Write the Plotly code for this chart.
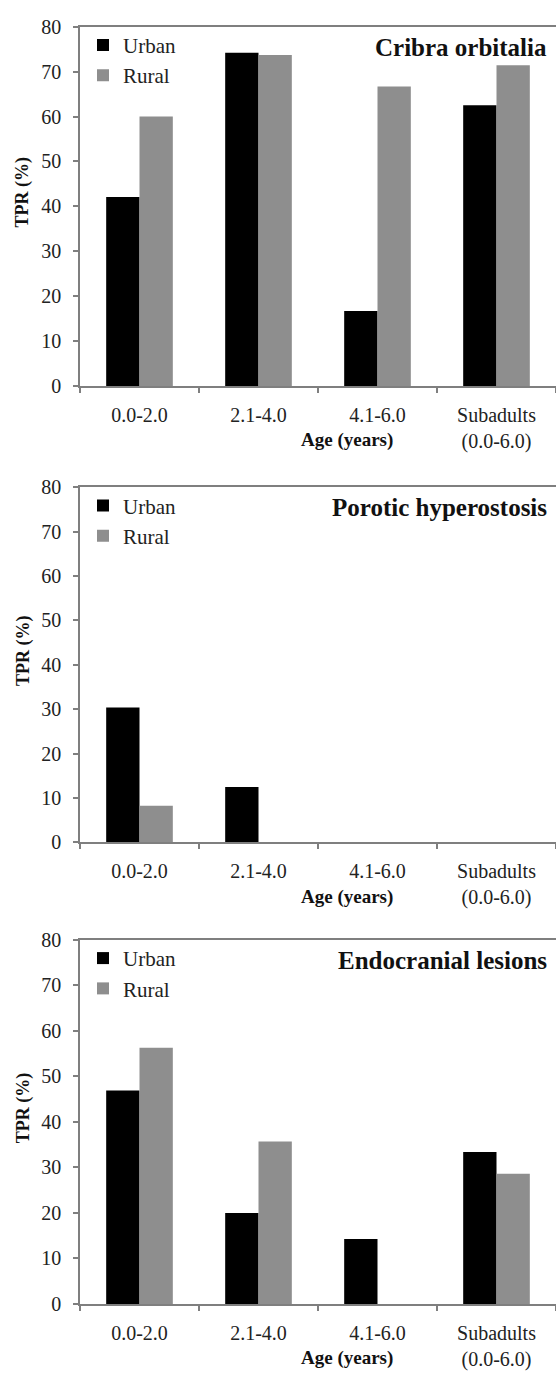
import plotly.graph_objects as go

# Age groups on the x axis
age_groups = ['0.0-2.0', '2.1-4.0', '4.1-6.0', 'Subadults<br>(0.0-6.0)']

# TPR (%) per lesion type
cribra_urban = [42.1, 74.2, 16.7, 62.5]
cribra_rural = [60.0, 73.7, 66.7, 71.4]

porotic_urban = [30.4, 12.5, 0, 0]
porotic_rural = [8.3, 0, 0, 0]

endo_urban = [46.9, 20.0, 14.3, 33.4]
endo_rural = [56.3, 35.7, 0, 28.6]

panel_titles = ['Cribra orbitalia', 'Porotic hyperostosis', 'Endocranial lesions']
y_ticks = [0, 10, 20, 30, 40, 50, 60, 70, 80]

W, H = 556, 1376
serif = 'Liberation Serif'
axis_gray = '#7f7f7f'
urban_color = '#000000'
rural_color = '#8e8e8e'

# pixel rows (top, bottom) of each plot area
panel_px = [(16, 381), (484, 845), (944, 1314)]
x_left = 80

panels = [
    (cribra_urban, cribra_rural),
    (porotic_urban, porotic_rural),
    (endo_urban, endo_rural),
]

fig = go.Figure()
annotations = []

for i, (urban, rural) in enumerate(panels):
    n = '' if i == 0 else str(i + 1)
    leg = 'legend' + n
    fig.add_trace(go.Bar(x=age_groups, y=urban, name='Urban', marker_color=urban_color,
                         marker_line_width=0, xaxis='x' + n, yaxis='y' + n, legend=leg))
    fig.add_trace(go.Bar(x=age_groups, y=rural, name='Rural', marker_color=rural_color,
                         marker_line_width=0, xaxis='x' + n, yaxis='y' + n, legend=leg))

    top, bot = panel_px[i]
    y0, y1 = 1 - bot / H, 1 - top / H

    fig.update_layout(**{
        'xaxis' + n: dict(
            domain=[x_left / W, 1], anchor='y' + n, type='category',
            showline=True, linecolor=axis_gray, linewidth=1.5, mirror=True,
            ticks='outside', ticklen=5, tickcolor=axis_gray, tickwidth=1.5,
            tickson='boundaries', ticklabelstandoff=10, showgrid=False,
            tickfont=dict(family=serif, size=20, color='#222'),
        ),
        'yaxis' + n: dict(
            domain=[y0, y1], anchor='x' + n, range=[0, 80],
            tickvals=y_ticks, showline=True, linecolor=axis_gray, linewidth=1.5,
            ticks='outside', ticklen=5, tickcolor=axis_gray, tickwidth=1.5,
            showgrid=False, zeroline=False, ticklabelstandoff=8,
            tickfont=dict(family=serif, size=20, color='#222'),
        ),
        leg: dict(
            x=83 / W, y=1 - (top - 2) / H, xanchor='left', yanchor='top',
            bgcolor='rgba(0,0,0,0)', font=dict(family=serif, size=21, color='#222'),
            tracegroupgap=0,
        ),
    })

    # panel title, top right
    annotations.append(dict(
        text='<b>' + panel_titles[i] + '</b>', x=549 / W, y=1 - (top + 21) / H,
        xref='paper', yref='paper', xanchor='right', yanchor='middle', showarrow=False,
        font=dict(family=serif, size=25, color='#111'),
    ))
    # y axis title
    annotations.append(dict(
        text='<b>TPR (%)</b>', x=23 / W, y=1 - ((top + bot) / 2 - 14) / H,
        xref='paper', yref='paper', xanchor='center', yanchor='middle', textangle=-90,
        showarrow=False, font=dict(family=serif, size=18, color='#111'),
    ))
    # x axis title
    annotations.append(dict(
        text='<b>Age (years)</b>', x=(x_left + 4 * 119 * 0.56) / W, y=1 - (bot + 55) / H,
        xref='paper', yref='paper', xanchor='center', yanchor='middle',
        showarrow=False, font=dict(family=serif, size=19, color='#111'),
    ))

fig.update_layout(
    width=W, height=H,
    margin=dict(l=0, r=0, t=0, b=0),
    paper_bgcolor='white', plot_bgcolor='white',
    barmode='group', bargap=0.44, bargroupgap=0,
    annotations=annotations,
)

# drop the page margin so the figure sits at the window corner
fig.write_html("out.html", config={'displayModeBar': False},
               post_script="document.body.style.margin='0';document.body.style.overflow='hidden';")
